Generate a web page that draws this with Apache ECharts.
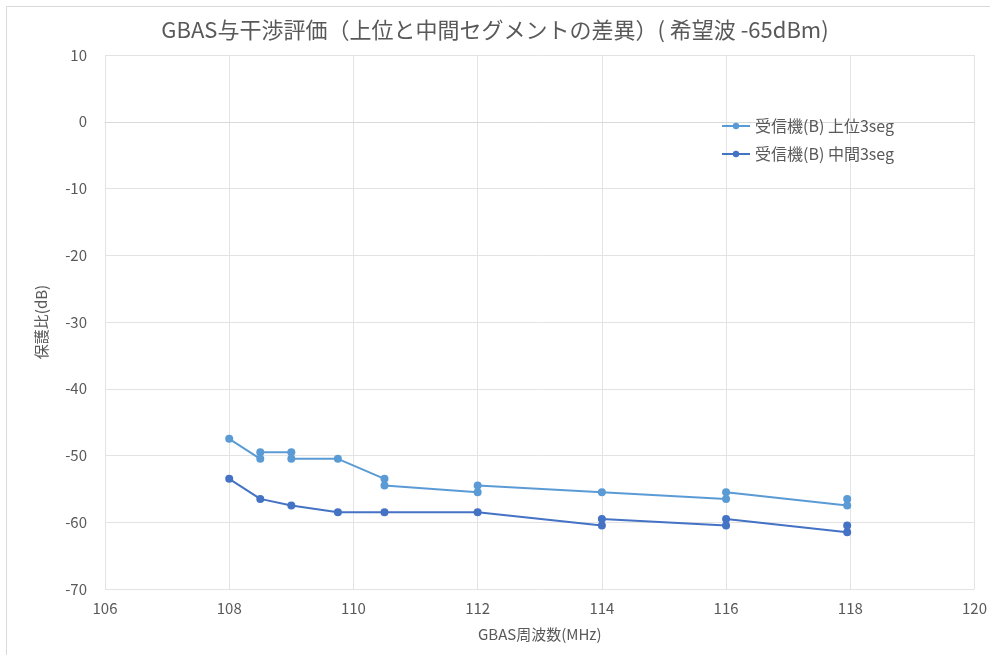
<!DOCTYPE html>
<html>
<head>
<meta charset="utf-8">
<style>
  html, body { margin: 0; padding: 0; background: #fff; }
  #chart { width: 990px; height: 655px; }
</style>
<script src="https://cdn.jsdelivr.net/npm/echarts@6/dist/echarts.min.js"></script>
</head>
<body>
<div id="chart"></div>
<script>
// 上位3seg
var upperFreq = [108.0, 108.5, 108.5, 109.0, 109.0, 109.75, 110.5, 110.5, 112.0, 112.0, 114.0, 116.0, 116.0, 117.95, 117.95];
var upperRatio = [-47.5, -50.5, -49.5, -49.5, -50.5, -50.5, -53.5, -54.5, -55.5, -54.5, -55.5, -56.5, -55.5, -57.5, -56.5];
// 中間3seg
var midFreq = [108.0, 108.5, 109.0, 109.75, 110.5, 112.0, 114.0, 114.0, 116.0, 116.0, 117.95, 117.95];
var midRatio = [-53.5, -56.5, -57.5, -58.5, -58.5, -58.5, -60.5, -59.5, -60.5, -59.5, -61.5, -60.5];

var seriesNames = ['受信機(B) 上位3seg', '受信機(B) 中間3seg'];
var font = '"Noto Sans CJK JP", "Noto Sans", sans-serif';

function pairs(xs, ys) {
  return xs.map(function (x, i) { return [x, ys[i]]; });
}

var chart = echarts.init(document.getElementById('chart'));
chart.setOption({
  animation: false,
  graphic: [{
    type: 'rect',
    shape: { x: 6.5, y: 6.5, width: 1000, height: 700 },
    style: { fill: 'none', stroke: '#d9d9d9', lineWidth: 1 },
    silent: true
  }],
  title: {
    text: 'GBAS与干渉評価（上位と中間セグメントの差異）( 希望波 -65dBm)',
    left: 'center',
    top: 14,
    textStyle: { fontFamily: font, fontSize: 22, fontWeight: 'normal', color: '#595959' }
  },
  grid: { left: 105, right: 15, top: 55, bottom: 66 },
  legend: {
    orient: 'vertical',
    left: 716,
    top: 113,
    itemGap: 12,
    itemWidth: 28,
    itemHeight: 8,
    textStyle: { fontFamily: font, fontSize: 16, color: '#595959' },
    data: seriesNames
  },
  xAxis: {
    type: 'value',
    min: 106,
    max: 120,
    interval: 2,
    name: 'GBAS周波数(MHz)',
    nameLocation: 'middle',
    nameGap: 38,
    nameTextStyle: { fontFamily: font, fontSize: 15, color: '#595959' },
    axisLine: { show: true, lineStyle: { color: '#d9d9d9' } },
    axisTick: { show: false },
    axisLabel: { fontFamily: font, fontSize: 15, color: '#595959', margin: 12 },
    splitLine: { show: true, lineStyle: { color: '#e3e3e3' } }
  },
  yAxis: {
    type: 'value',
    min: -70,
    max: 10,
    interval: 10,
    name: '保護比(dB)',
    nameLocation: 'middle',
    nameGap: 56,
    nameTextStyle: { fontFamily: font, fontSize: 15, color: '#595959' },
    axisLine: { show: false },
    axisTick: { show: false },
    axisLabel: { fontFamily: font, fontSize: 15, color: '#595959', margin: 18 },
    splitLine: { show: true, lineStyle: { color: '#e3e3e3' } }
  },
  series: [
    {
      name: seriesNames[0],
      type: 'line',
      symbol: 'circle',
      symbolSize: 8,
      color: '#5b9bd5',
      lineStyle: { width: 2 },
      data: pairs(upperFreq, upperRatio)
    },
    {
      name: seriesNames[1],
      type: 'line',
      symbol: 'circle',
      symbolSize: 8,
      color: '#4472c4',
      lineStyle: { width: 2 },
      data: pairs(midFreq, midRatio)
    }
  ]
});
</script>
</body>
</html>
